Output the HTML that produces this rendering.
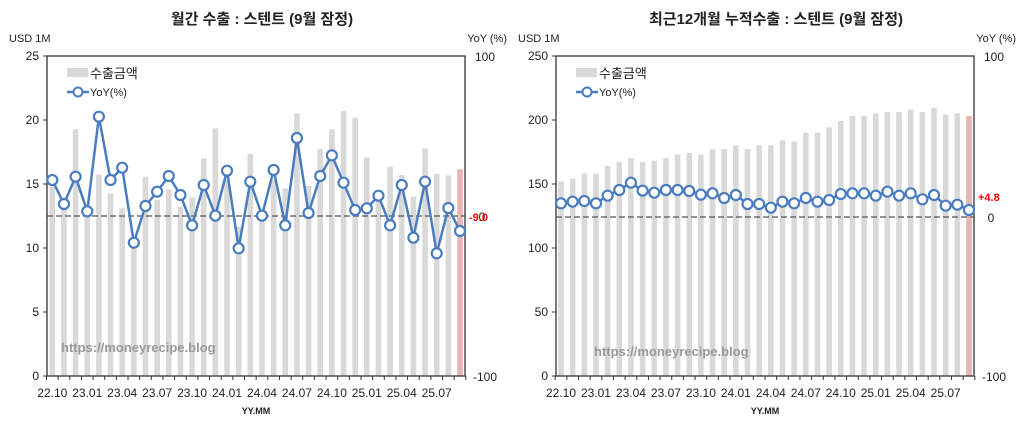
<!DOCTYPE html><html><head><meta charset="utf-8"><style>
body{margin:0;background:#fff;width:1024px;height:435px;overflow:hidden}
svg{font-family:"Liberation Sans","Noto Sans CJK KR",sans-serif}
</style></head><body>
<svg id="s" width="1024" height="435" xmlns="http://www.w3.org/2000/svg"></svg>
<script>
const s=document.getElementById('s');let h='';
const labs=['22.10','23.01','23.04','23.07','23.10','24.01','24.04','24.07','24.10','25.01','25.04','25.07'];
function chart(o){
 const {x0,x1,b0,b1,title,tc,lmax,lticks,bars,line,lab,dash}=o;
 const y0=376,yt=56,n=36,sp=(b1-b0)/35;
 h+=`<text x="${tc}" y="24" font-size="15" font-weight="bold" text-anchor="middle" fill="#222">${title}</text>`;
 h+=`<text x="${x0-38}" y="42" font-size="11" fill="#222">USD 1M</text>`;
 h+=`<text x="${x1+42}" y="42" font-size="11" fill="#222" text-anchor="end">YoY (%)</text>`;
 for(let i=0;i<n;i++){const bx=b0+i*sp;const t=40+bars[i]/3;
  h+=`<rect x="${bx-2.8}" y="${t}" width="5.6" height="${y0-t}" fill="${i==35?'#e8b4b0':'#d9d9d9'}"/>`;}
 h+=`<line x1="${x0}" x2="${x1}" y1="${dash}" y2="${dash}" stroke="#555" stroke-dasharray="6,3" stroke-width="1.2"/>`;
 h+=`<rect x="${x0}" y="${yt}" width="${x1-x0}" height="${y0-yt}" fill="none" stroke="#333" stroke-width="1.3"/>`;
 lticks.forEach((v,i)=>{const y=y0-(y0-yt)*i/(lticks.length-1);
  h+=`<text x="${x0-8}" y="${y+4}" font-size="12" text-anchor="end" fill="#222">${v}</text>`;
  h+=`<line x1="${x0-4}" x2="${x0}" y1="${y}" y2="${y}" stroke="#333"/>`;});
 h+=`<text x="${x1+30}" y="${yt+5}" font-size="12" text-anchor="end" fill="#222">100</text>`;
 h+=`<text x="${x1+32}" y="${y0+5}" font-size="12" text-anchor="end" fill="#222">-100</text>`;
 if(o.zero)h+=`<text x="${x1+17}" y="${dash+5}" font-size="12" text-anchor="middle" fill="#222">0</text>`;
 h+=`<text x="${x1+4}" y="${dash-8+o.lo}" font-size="11" font-weight="bold" fill="#e00">${lab}</text>`;
 for(let i=0;i<=n;i++){const tx=b0-sp/2+i*sp;h+=`<line x1="${tx}" x2="${tx}" y1="${y0}" y2="${y0+4}" stroke="#333"/>`;}
 labs.forEach((l,i)=>{h+=`<text x="${b0+i*3*sp}" y="${397}" font-size="12" text-anchor="middle" fill="#222">${l}</text>`;});
 h+=`<text x="${(x0+x1)/2}" y="414" font-size="9" font-weight="bold" text-anchor="middle" fill="#222">YY.MM</text>`;
 let p=line.map((v,i)=>`${b0+i*sp},${40+v/3}`).join(' ');
 h+=`<polyline points="${p}" fill="none" stroke="#4a7cc0" stroke-width="2.5"/>`;
 line.forEach((v,i)=>{h+=`<circle cx="${b0+i*sp}" cy="${40+v/3}" r="5" fill="#fff" stroke="#4a7cc0" stroke-width="2.2"/>`;});
 h+=`<rect x="${x0+20}" y="68" width="21" height="9" fill="#d9d9d9"/><text x="${x0+43}" y="78" font-size="13" fill="#222">수출금액</text>`;
 h+=`<line x1="${x0+20}" x2="${x0+42}" y1="92" y2="92" stroke="#4a7cc0" stroke-width="2.5"/><circle cx="${x0+31}" cy="92" r="4.5" fill="#fff" stroke="#4a7cc0" stroke-width="2"/><text x="${x0+43}" y="96" font-size="11" fill="#222">YoY(%)</text>`;
 h+=`<text x="${o.wx}" y="${o.wy}" font-size="13" font-weight="bold" fill="#999">https://moneyrecipe.blog</text>`;
}
chart({x0:47,x1:465,b0:52.3,b1:460,tc:262,title:'월간 수출 : 스텐트 (9월 잠정)',lticks:[0,5,10,15,20,25],
bars:[440,480,268,530,404,460,505,620,410,480,448,500,472,355,265,420,560,342,520,420,445,220,438,327,268,213,233,352,480,380,405,470,325,402,406,388],
line:[420,492,410,514,230,420,383,608,498,455,408,465,556,435,527,392,625,425,527,390,556,294,519,408,346,428,510,505,467,556,435,593,425,640,504,573],
lab:'-9.0',dash:216,zero:true,lo:13,wx:61,wy:352});
chart({x0:556,x1:974,b0:561,b1:969,tc:776,title:'최근12개월 누적수출 : 스텐트 (9월 잠정)',lticks:[0,50,100,150,200,250],
bars:[152,154,158,158,164,167,170,167,168,170,173,174,173,177,177,180,177,180,180,184,183,190,190,194,199,203,203,205,206,206,208,206,209,204,205,203].map(v=>1008-v/250*961),
line:[490,485,483,490,467,450,428,452,458,450,450,453,464,460,474,465,492,492,503,485,490,474,485,480,462,460,460,467,455,467,460,478,465,497,494,510],
lab:'+4.8',dash:217,zero:true,lo:-8,wx:594,wy:356});
s.innerHTML=h;
</script></body></html>
